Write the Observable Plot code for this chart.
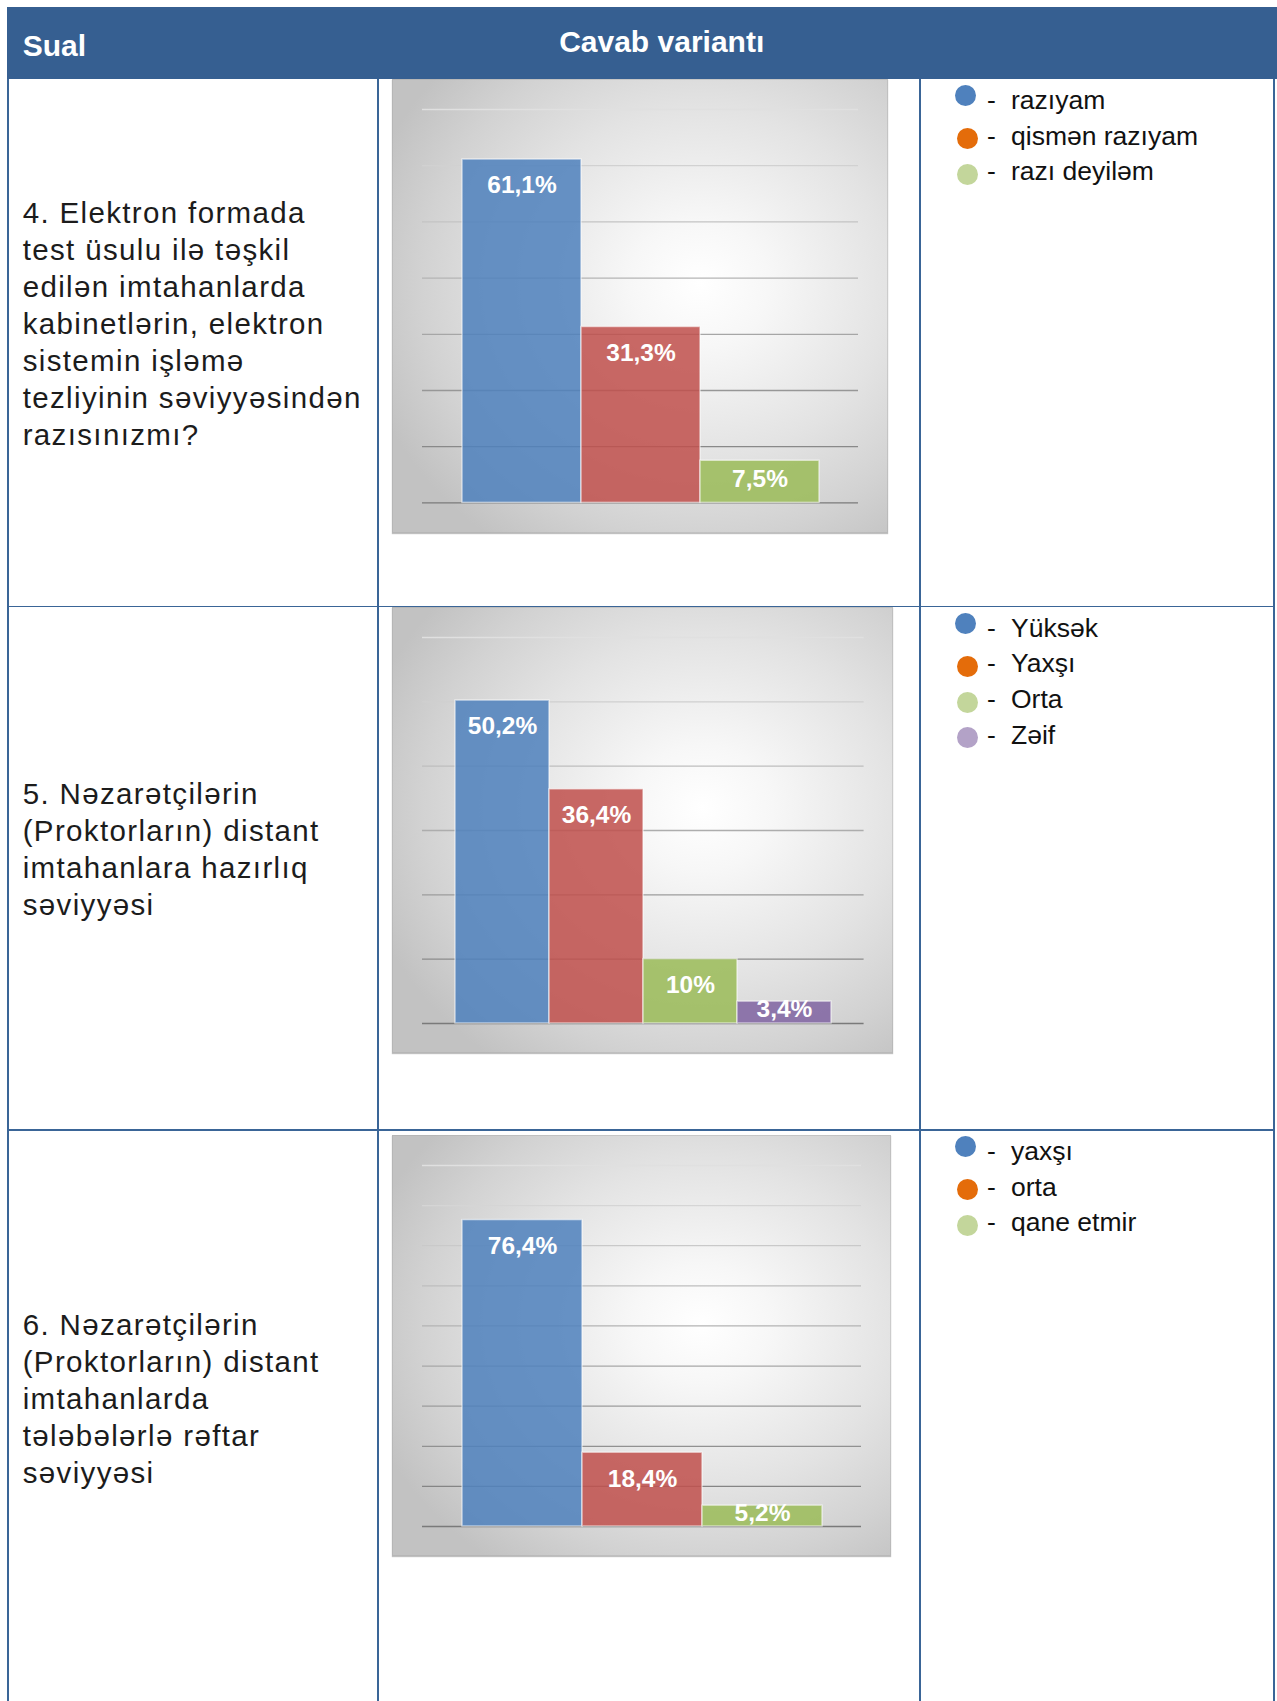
<!DOCTYPE html>
<html>
<head>
<meta charset="utf-8">
<script src="https://cdn.jsdelivr.net/npm/d3@7"></script>
<script src="https://cdn.jsdelivr.net/npm/@observablehq/plot@0.6"></script>
<style>
  body { margin: 0; background: #ffffff; }
  #page { position: relative; width: 1277px; height: 1701px; overflow: hidden;
          font-family: "Liberation Sans", Arial, Helvetica, sans-serif; }
  .hdr { position: absolute; left: 7px; top: 7px; width: 1270px; height: 72px; background: #365f91; }
  .htext { position: absolute; color: #ffffff; font-weight: bold; font-size: 30px; line-height: 30px; white-space: nowrap; }
  .ln { position: absolute; background: #3a6597; }
  .q { position: absolute; left: 22.7px; font-size: 29.5px; line-height: 37px; letter-spacing: 1.35px;
       color: #1c1c1c; white-space: nowrap; }
  .chart { position: absolute; box-sizing: border-box;
           background: radial-gradient(ellipse 70% 70% at 62% 45%, #ffffff 0%, #f7f7f7 20%, #e3e3e3 55%, #d2d2d2 80%, #c2c2c2 100%);
           box-shadow: inset 0 0 0 1px rgba(160,160,160,0.35), 0 1px 1px rgba(150,150,150,0.6); }
  .chart svg { display: block; }
  .item { position: absolute; left: 940px; width: 330px; height: 35.8px; font-size: 26.5px; line-height: 35.8px;
          color: #111111; white-space: nowrap; }
  .dot { position: absolute; width: 21px; height: 21px; border-radius: 50%; }
  .dash { position: absolute; left: 47px; top: 0; }
  .lab { position: absolute; left: 71px; top: 0; }
</style>
</head>
<body>
<div id="page">
  <div class="hdr"></div>
</div>
<script>
// ---------------- data ----------------
const headerQuestion = "Sual";
const headerAnswer = "Cavab variantı";

const q4Lines = ["4. Elektron formada", "test üsulu ilə təşkil", "edilən imtahanlarda",
                 "kabinetlərin, elektron", "sistemin işləmə", "tezliyinin səviyyəsindən", "razısınızmı?"];
const q4Categories = ["razıyam", "qismən razıyam", "razı deyiləm"];
const q4Values = [61.1, 31.3, 7.5];
const q4Ticks = [0, 10, 20, 30, 40, 50, 60, 70];

const q5Lines = ["5. Nəzarətçilərin", "(Proktorların) distant", "imtahanlara hazırlıq", "səviyyəsi"];
const q5Categories = ["Yüksək", "Yaxşı", "Orta", "Zəif"];
const q5Values = [50.2, 36.4, 10, 3.4];
const q5Ticks = [0, 10, 20, 30, 40, 50, 60];

const q6Lines = ["6. Nəzarətçilərin", "(Proktorların) distant", "imtahanlarda", "tələbələrlə rəftar", "səviyyəsi"];
const q6Categories = ["yaxşı", "orta", "qane etmir"];
const q6Values = [76.4, 18.4, 5.2];
const q6Ticks = [0, 10, 20, 30, 40, 50, 60, 70, 80, 90];

const barColors = ["#4f81bd", "#c0504d", "#9bbb59", "#8064a2"];
const legendColors = ["#4f81bd", "#e46c0a", "#c3d69b", "#b3a2c7"];

// ---------------- layout ----------------
const page = document.getElementById("page");
const FONT = '"Liberation Sans", Arial, Helvetica, sans-serif';

function addDiv(cls, css, text) {
  const d = document.createElement("div");
  d.className = cls;
  Object.assign(d.style, css);
  if (text != null) d.textContent = text;
  page.appendChild(d);
  return d;
}

// header texts
addDiv("htext", {left: "22.7px", top: "31.3px"}, headerQuestion);
addDiv("htext", {left: "661.7px", top: "27.3px", transform: "translateX(-50%)"}, headerAnswer);

// table lines
addDiv("ln", {left: "7.3px", top: "79px", width: "1.5px", height: "1630px"});
addDiv("ln", {left: "377px", top: "79px", width: "1.7px", height: "1630px"});
addDiv("ln", {left: "919.3px", top: "79px", width: "1.5px", height: "1630px"});
addDiv("ln", {left: "1273.3px", top: "79px", width: "1.7px", height: "1630px"});
addDiv("ln", {left: "7.3px", top: "605.8px", width: "1268px", height: "1.4px"});
addDiv("ln", {left: "7.3px", top: "1129.2px", width: "1268px", height: "1.4px"});

const rows = [
  {lines: q4Lines, cats: q4Categories, vals: q4Values, ticks: q4Ticks, rowTop: 79, qBase: 222.7,
   box: {left: 391.7, top: 79.3, w: 496, h: 453.4}},
  {lines: q5Lines, cats: q5Categories, vals: q5Values, ticks: q5Ticks, rowTop: 606.7, qBase: 803.3,
   box: {left: 391.7, top: 607.3, w: 501.6, h: 446}},
  {lines: q6Lines, cats: q6Categories, vals: q6Values, ticks: q6Ticks, rowTop: 1130, qBase: 1335,
   box: {left: 391.7, top: 1135, w: 499, h: 421}}
];

const fmt = v => String(v).replace(".", ",") + "%";
const gridColor = d3.interpolateRgb("#7a7a7a", "#e0e0e0");

function drawChart(row) {
  const {cats, vals, ticks, box} = row;
  const max = ticks[ticks.length - 1];
  const data = cats.map((c, i) => ({cat: c, value: vals[i], color: barColors[i], label: fmt(vals[i])}));
  const plotH = box.h - 60;
  const tall = data.filter(d => d.value / max * plotH >= 55);
  const short = data.filter(d => d.value / max * plotH < 55);
  const svg = Plot.plot({
    width: box.w,
    height: box.h,
    margin: 30,
    style: {background: "transparent", fontFamily: FONT, overflow: "visible"},
    x: {type: "band", domain: cats, paddingInner: 0, paddingOuter: 0.325, axis: null},
    y: {domain: [0, max], axis: null},
    color: {type: "identity"},
    marks: [
      Plot.ruleY(ticks, {stroke: d => gridColor(d / max), strokeWidth: 1.3}),
      Plot.barY(data, {x: "cat", y: "value", fill: "color", fillOpacity: 0.86,
                       stroke: "#ffffff", strokeOpacity: 0.55, strokeWidth: 1.5}),
      Plot.text(tall, {x: "cat", y: "value", text: "label", fill: "white", fontSize: 24.5,
                       fontWeight: "bold", lineAnchor: "middle", dy: 26}),
      Plot.text(short, {x: "cat", y: d => d.value / 2, text: "label", fill: "white", fontSize: 24.5,
                        fontWeight: "bold", lineAnchor: "middle", dy: -3})
    ]
  });
  const holder = addDiv("chart", {left: box.left + "px", top: box.top + "px",
                                  width: box.w + "px", height: box.h + "px"});
  holder.appendChild(svg);
}

rows.forEach(row => {
  // question text
  const q = addDiv("q", {top: (row.qBase - 28.6) + "px"});
  row.lines.forEach((l, i) => {
    if (i) q.appendChild(document.createElement("br"));
    q.appendChild(document.createTextNode(l));
  });
  // chart
  drawChart(row);
  // legend
  row.cats.forEach((c, i) => {
    const item = addDiv("item", {top: (row.rowTop + 3.8 + i * 35.8) + "px"});
    const dot = document.createElement("span");
    dot.className = "dot";
    dot.style.background = legendColors[i];
    dot.style.left = (i === 0 ? 14.7 : 16.7) + "px";
    dot.style.top = (i === 0 ? 2.6 : 9.6) + "px";
    item.appendChild(dot);
    const dash = document.createElement("span");
    dash.className = "dash";
    dash.textContent = "-";
    item.appendChild(dash);
    const lab = document.createElement("span");
    lab.className = "lab";
    lab.textContent = c;
    item.appendChild(lab);
  });
});
</script>
</body>
</html>
